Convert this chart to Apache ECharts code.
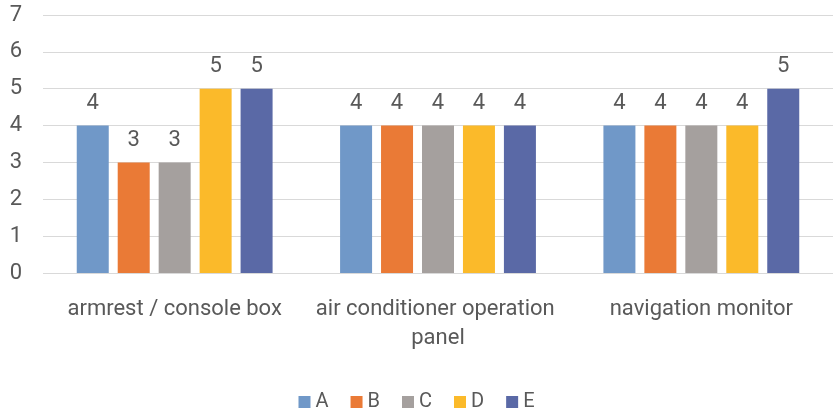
<!DOCTYPE html>
<html><head><meta charset="utf-8">
<script src="https://cdn.jsdelivr.net/npm/echarts@6/dist/echarts.min.js"></script>
<style>html,body{margin:0;padding:0;background:#fff}#c{width:833px;height:411px}</style>
</head><body><div id="c"></div>
<script>
const categories = ['armrest / console box', 'air conditioner operation panel', 'navigation monitor'];
const seriesNames = ['A', 'B', 'C', 'D', 'E'];
const valuesA = [4, 4, 4];
const valuesB = [3, 4, 4];
const valuesC = [3, 4, 4];
const valuesD = [5, 4, 4];
const valuesE = [5, 4, 5];
const yTicks = [0, 1, 2, 3, 4, 5, 6, 7];
const colors = ['#7098C8', '#EA7A36', '#A5A09E', '#FBBA2A', '#5A69A6'];
const allValues = [valuesA, valuesB, valuesC, valuesD, valuesE];
const font = 'Roboto, sans-serif';
const chart = echarts.init(document.getElementById('c'));
chart.setOption({
  animation: false,
  textStyle: { fontFamily: font },
  grid: { left: 43, right: -4, top: 15, bottom: 138 },
  legend: {
    top: 387, left: 'center', itemWidth: 12, itemHeight: 12, itemGap: 22,
    icon: 'rect',
    textStyle: { fontFamily: font, fontSize: 20, color: '#595959' },
    data: seriesNames
  },
  xAxis: {
    type: 'category', data: categories,
    axisLine: { show: false }, axisTick: { show: false },
    axisLabel: { fontFamily: font, fontSize: 22, color: '#595959', margin: 22, width: 250, overflow: 'break', lineHeight: 29, interval: 0 }
  },
  yAxis: {
    type: 'value', min: yTicks[0], max: yTicks[yTicks.length - 1], interval: 1,
    axisLine: { show: false }, axisTick: { show: false },
    axisLabel: { fontFamily: font, fontSize: 22, color: '#595959', margin: 21 },
    splitLine: { lineStyle: { color: '#D9D9D9', width: 1 } }
  },
  series: seriesNames.map((n, i) => ({
    name: n, type: 'bar', data: allValues[i],
    barWidth: 32, barGap: '28%',
    itemStyle: { color: colors[i] },
    label: { show: true, position: 'top', distance: 11, fontFamily: font, fontSize: 22, color: '#595959' }
  }))
});
</script></body></html>
